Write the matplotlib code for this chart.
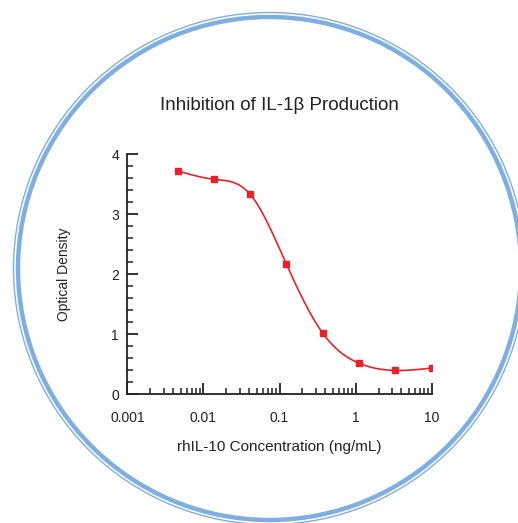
import matplotlib
matplotlib.use("Agg")
import matplotlib.pyplot as plt
import numpy as np
from matplotlib.patches import Circle
from matplotlib.ticker import LogLocator, FixedLocator, NullFormatter

# ---------------- data ----------------
conc = [0.00457, 0.0137, 0.0412, 0.123, 0.370, 1.11, 3.33, 10.0]   # ng/mL
od = [3.72, 3.58, 3.33, 2.17, 1.02, 0.52, 0.40, 0.44]
x_ticks = [0.001, 0.01, 0.1, 1, 10]
x_tick_labels = ["0.001", "0.01", "0.1", "1", "10"]
y_ticks = [0, 1, 2, 3, 4]

RED = "#e8212b"
RING = "#7eafe0"
INK = "#222222"

plt.rcParams["font.family"] = ["Liberation Sans", "DejaVu Sans"]


def natural_spline(x, y, xs):
    """Natural cubic spline through (x, y), evaluated at xs."""
    x = np.asarray(x, float)
    y = np.asarray(y, float)
    n = len(x)
    h = np.diff(x)
    A = np.zeros((n, n))
    b = np.zeros(n)
    A[0, 0] = A[-1, -1] = 1.0
    for i in range(1, n - 1):
        A[i, i - 1] = h[i - 1]
        A[i, i] = 2 * (h[i - 1] + h[i])
        A[i, i + 1] = h[i]
        b[i] = 6 * ((y[i + 1] - y[i]) / h[i] - (y[i] - y[i - 1]) / h[i - 1])
    M = np.linalg.solve(A, b)
    idx = np.clip(np.searchsorted(x, xs) - 1, 0, n - 2)
    x0, x1 = x[idx], x[idx + 1]
    hh = x1 - x0
    t0, t1 = x1 - xs, xs - x0
    return (M[idx] * t0**3 / (6 * hh) + M[idx + 1] * t1**3 / (6 * hh)
            + (y[idx] / hh - M[idx] * hh / 6) * t0
            + (y[idx + 1] / hh - M[idx + 1] * hh / 6) * t1)


fig = plt.figure(figsize=(5.18, 5.23), dpi=100)

# decorative double ring in pixel space
bg = fig.add_axes([0, 0, 1, 1])
bg.set_xlim(0, 518)
bg.set_ylim(523, 0)
bg.axis("off")
bg.add_patch(Circle((269.5, 268.5), 251.5, fill=False, ec=RING, lw=3.2))
bg.add_patch(Circle((269.5, 268.5), 256.0, fill=False, ec=RING, lw=1.0))

ax = fig.add_axes([0.2458, 0.2457, 0.5876, 0.4598])
lx = np.log10(conc)
xs = np.linspace(lx[0], lx[-1], 400)
ax.plot(10**xs, natural_spline(lx, od, xs), color=RED, lw=1.2)
ax.plot(conc, od, ls="none", marker="s", ms=5, color=RED, mec=RED)

ax.set_xscale("log")
ax.set_xlim(0.001, 10)
ax.set_ylim(0, 4)
ax.xaxis.set_major_locator(FixedLocator(x_ticks))
ax.set_xticklabels(x_tick_labels)
ax.xaxis.set_minor_locator(LogLocator(base=10, subs=np.arange(2, 10)))
ax.xaxis.set_minor_formatter(NullFormatter())
ax.set_yticks(y_ticks)
ax.yaxis.set_minor_locator(FixedLocator(np.arange(0, 4.01, 0.2)))

for s in ("top", "right"):
    ax.spines[s].set_visible(False)
for s in ("left", "bottom"):
    ax.spines[s].set_linewidth(1.3)
    ax.spines[s].set_color(INK)

ax.tick_params(which="major", direction="in", length=8, width=1.3, color=INK,
               labelsize=10, labelcolor=INK)
ax.tick_params(axis="x", which="major", pad=12)
ax.tick_params(axis="y", which="major", pad=6)
ax.tick_params(which="minor", direction="in", length=4.5, width=1.1, color=INK)
ax.patch.set_alpha(0)

ax.set_xlabel("rhIL-10 Concentration (ng/mL)", fontsize=11, color=INK, labelpad=11)
ax.set_ylabel("Optical Density", fontsize=10, color=INK, labelpad=29)
ax.set_title("Inhibition of IL-1β Production", fontsize=13.5, color=INK, pad=31.5)

fig.savefig("out.png", dpi=100)
